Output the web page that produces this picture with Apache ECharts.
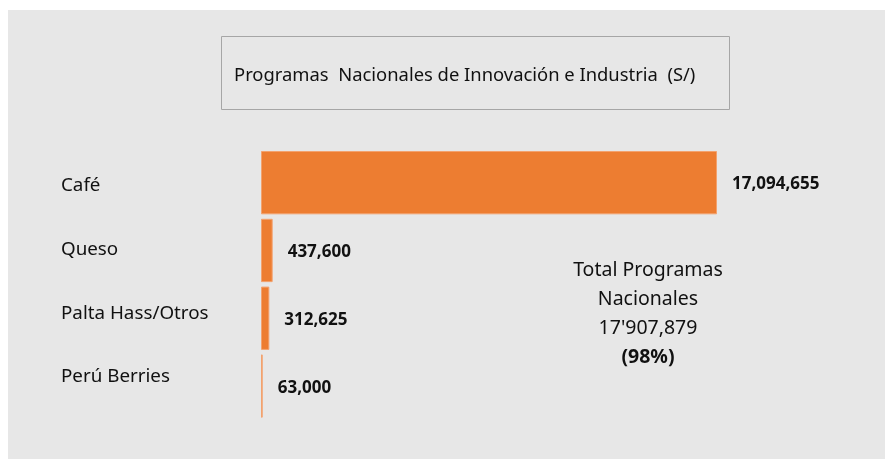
<!DOCTYPE html>
<html>
<head>
<meta charset="utf-8">
<script src="https://cdn.jsdelivr.net/npm/echarts@6/dist/echarts.min.js"></script>
<style>
html,body{margin:0;padding:0;background:#fff;}
#c{width:885px;height:459px;}
</style>
</head>
<body>
<div id="c"></div>
<script>
var categories = ['Café', 'Queso', 'Palta Hass/Otros', 'Perú Berries'];
var values = [17094655, 437600, 312625, 63000];
var titleText = 'Programas  Nacionales de Innovación e Industria  (S/)';
var totalLines = ['Total Programas', 'Nacionales', "17'907,879"];
var totalPct = '(98%)';

var FONT = 'Noto Sans';
var chart = echarts.init(document.getElementById('c'), null, {renderer: 'canvas'});

function fmt(v) {
  return v.toString().replace(/\B(?=(\d{3})+(?!\d))/g, ',');
}

var option = {
  backgroundColor: '#ffffff',
  animation: false,
  title: {
    text: titleText,
    left: 234,
    top: 67,
    padding: 0,
    textStyle: {fontFamily: FONT, fontSize: 18.4, fontWeight: 'normal', color: '#111111', lineHeight: 18}
  },
  graphic: [
    {type: 'rect', z: -10, silent: true, shape: {x: 8, y: 10, width: 877, height: 449}, style: {fill: '#e7e7e7'}},
    {type: 'rect', z: -5, silent: true, shape: {x: 221.5, y: 36.5, width: 508, height: 73}, style: {fill: '#e7e7e7', stroke: '#a6a6a6', lineWidth: 1}},
    {type: 'text', silent: true, x: 648, y: 256, style: {
      text: totalLines.map(function(s){return '{a|' + s + '}';}).join('\n') + '\n{b|' + totalPct + '}',
      align: 'center', verticalAlign: 'top', fill: '#111111',
      rich: {
        a: {fontFamily: FONT, fontSize: 19.5, lineHeight: 29, fill: '#111111', align: 'center'},
        b: {fontFamily: FONT, fontSize: 19.5, fontWeight: 'bold', lineHeight: 29, fill: '#111111', align: 'center'}
      }
    }}
  ],
  grid: [
    {left: 261, top: 148.75, width: 456, height: 271.2, containLabel: false},
    {left: 61, top: 154, width: 10, height: 254.8, containLabel: false}
  ],
  xAxis: [
    {type: 'value', gridIndex: 0, min: 0, max: 'dataMax', show: false},
    {type: 'value', gridIndex: 1, min: 0, max: 1, show: false}
  ],
  yAxis: [
    {type: 'category', gridIndex: 0, data: categories, inverse: true, show: false},
    {type: 'category', gridIndex: 1, data: categories, inverse: true,
      axisLine: {show: false}, axisTick: {show: false}, splitLine: {show: false},
      axisLabel: {show: true, margin: 0, align: 'left', fontFamily: FONT, fontSize: 18.8, color: '#111111'}
    }
  ],
  series: [
    {
      type: 'bar',
      xAxisIndex: 0, yAxisIndex: 0,
      data: values,
      barCategoryGap: '6.6%',
      itemStyle: {color: '#ed7d31', borderColor: '#f3a26e', borderWidth: 1},
      label: {
        show: true, position: 'right', distance: 15, offset: [0, 2],
        formatter: function(p){ return fmt(p.value); },
        fontFamily: FONT, fontSize: 17, fontWeight: 'bold', color: '#111111'
      }
    }
  ]
};
chart.setOption(option);
</script>
</body>
</html>
